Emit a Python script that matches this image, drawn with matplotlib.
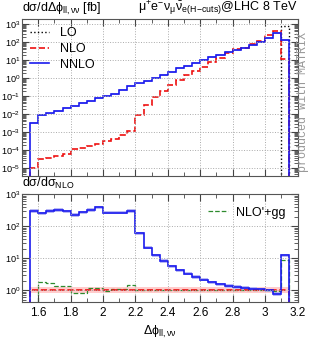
import numpy as np
import matplotlib
matplotlib.use("Agg")
import matplotlib.pyplot as plt
from matplotlib.ticker import LogLocator, MultipleLocator, NullFormatter

plt.rcParams['font.family'] = ['Liberation Sans', 'DejaVu Sans']
plt.rcParams['mathtext.fontset'] = 'custom'
plt.rcParams['mathtext.rm'] = 'Liberation Sans'
plt.rcParams['mathtext.it'] = 'Liberation Sans'
plt.rcParams['mathtext.sf'] = 'Liberation Sans'
plt.rcParams['mathtext.default'] = 'regular'
plt.rcParams['font.size'] = 8

# bin edges in delta phi (ll vs nunu), 0.05 wide
edges = np.round(np.arange(1.55, 3.151, 0.05), 2)

# d sigma / d delta phi [fb]
nnlo = [3.4e-3, 9.1e-3, 1.12e-2, 1.58e-2, 2.14e-2, 3.0e-2, 4.1e-2, 5.75e-2,
        7.8e-2, 0.105, 0.141, 0.22, 0.37, 0.52, 0.74, 1.0,
        1.51, 2.34, 3.55, 5.0, 6.8, 10.5, 14.8, 19.5,
        27.5, 37.0, 50.0, 71.0, 107.0, 166.0, 330.0, 135.0]
nlo = [1.1e-5, 3.2e-5, 3.8e-5, 4.8e-5, 6.3e-5, 1.12e-4, 1.4e-4, 1.8e-4,
       2.2e-4, 3.2e-4, 4.5e-4, 7.1e-4, 1.26e-3, 9.5e-3, 3.5e-2, 8.9e-2,
       0.2, 0.43, 0.81, 1.5, 2.6, 4.5, 7.6, 12.6,
       24.5, 40.0, 50.0, 78.0, 117.0, 257.0, 427.0, 12.0]
lo_edges = [3.10, 3.15]
lo = [790.0]

# ratios to NLO
r_nnlo = [302, 251, 302, 324, 288, 224, 269, 324, 389, 263, 263, 263, 302,
          60, 21.4, 12.3, 8.3, 5.6, 4.2, 3.3, 2.6, 2.14, 1.78, 1.51, 1.35,
          1.26, 1.17, 1.12, 1.07, 1.0, 0.76, 12.3]
gg_edges = edges[1:]
r_gg = [1.8, 1.7, 1.35, 1.35, 0.8, 0.83, 1.17, 1.2, 0.93, 1.07, 1.07, 1.43,
        1.0, 1.03, 1.0, 0.98, 1.0, 1.0, 1.0, 1.0, 1.0, 1.0, 1.0, 1.0, 1.0,
        1.0, 1.0, 1.0, 1.0, 0.97, 8.5]
nnlo_unc = 0.12
nlo_unc = (0.82, 1.22)

blue = '#1a1aee'
red = '#ee1111'
green = '#2e8b2e'

fig = plt.figure(figsize=(3.11, 3.40), dpi=100)
ax1 = fig.add_axes([0.0707, 0.482, 0.886, 0.462])
ax2 = fig.add_axes([0.0707, 0.112, 0.886, 0.317])

nnlo = np.array(nnlo)
ax1.stairs(nnlo * (1 + nnlo_unc), edges, baseline=nnlo * (1 - nnlo_unc),
           fill=True, color='#b8b8f4', lw=0)
ax1.stairs(lo, lo_edges, baseline=1e-8, color='black', ls=':', lw=1.0, label='LO')
ax1.stairs(nlo, edges, baseline=1e-8, color=red, ls='--', lw=1.2, label='NLO')
ax1.stairs(nnlo, edges, baseline=1e-8, color=blue, lw=1.2, label='NNLO')
ax1.set_yscale('log')
ax1.set_ylim(3.7e-6, 1950)
ax1.set_yticks([10.0 ** k for k in range(-5, 4)])
ax1.legend(loc='upper left', frameon=False, fontsize=9, handlelength=1.5,
           handletextpad=0.9, borderaxespad=0.35, borderpad=0.3,
           labelspacing=0.3)
ax1.tick_params(labelbottom=False)

r_nnlo = np.array(r_nnlo)
ax2.stairs(np.full(len(nlo), nlo_unc[1]), edges,
           baseline=np.full(len(nlo), nlo_unc[0]), fill=True, color='#ffcccc', lw=0)
ax2.stairs(r_nnlo * (1 + nnlo_unc), edges, baseline=r_nnlo * (1 - nnlo_unc),
           fill=True, color='#b8b8f4', lw=0)
ax2.stairs(r_gg, gg_edges, baseline=0.1, color=green, ls='--', lw=0.9,
           label="NLO'+gg")
ax2.stairs(np.ones(len(nlo)), edges, color=red, ls='--', lw=1.2)
ax2.stairs(r_nnlo, edges, color=blue, lw=1.2)
ax2.set_yscale('log')
ax2.set_ylim(0.43, 1000)
ax2.set_yticks([1, 10, 100, 1000])
ax2.legend(loc='upper right', frameon=False, fontsize=9, handlelength=1.6,
           handletextpad=0.6, borderaxespad=0.6)

for ax in (ax1, ax2):
    ax.set_xlim(1.5, 3.2)
    ax.xaxis.set_major_locator(MultipleLocator(0.2))
    ax.xaxis.set_minor_locator(MultipleLocator(0.1))
    ax.yaxis.set_minor_locator(LogLocator(base=10, subs=np.arange(2, 10), numticks=20))
    ax.yaxis.set_minor_formatter(NullFormatter())
    ax.grid(True, which='major', color='#aaaaaa', ls=':', lw=0.7)
    ax.tick_params(which='both', direction='in', top=True, right=True,
                   colors='#444444', labelcolor='black', labelsize=6.6, pad=1.2)
    ax.tick_params(which='major', length=5)
    ax.tick_params(which='minor', length=3)
    for s in ax.spines.values():
        s.set_color('#555555')

ax2.set_xticks([1.6, 1.8, 2.0, 2.2, 2.4, 2.6, 2.8, 3.0, 3.2])
ax2.set_xticklabels(['1.6', '1.8', '2', '2.2', '2.4', '2.6', '2.8', '3', '3.2'],
                    fontsize=8.5)
ax2.tick_params(axis='x', pad=4)

ax1.text(0.0, 1.012, r'd$\sigma$/d$\Delta\phi_{ll,\nu\nu}$ [fb]',
         transform=ax1.transAxes, ha='left', va='bottom', fontsize=9)
ax1.text(1.0, 1.008,
         r'$\mu^{+}e^{-}\nu_{\mu}\bar{\nu}_{e}{}_{(H\!-\!cuts)}$@LHC 8 TeV',
         transform=ax1.transAxes, ha='right', va='bottom', fontsize=9)
ax2.text(0.0, 1.03, r'd$\sigma$/d$\sigma_{NLO}$',
         transform=ax2.transAxes, ha='left', va='bottom', fontsize=9)
ax2.set_xlabel(r'$\Delta\phi_{ll,\nu\nu}$', fontsize=9, labelpad=3)
fig.text(0.975, 0.70, 'produced with MATRIX', rotation=90, ha='center',
         va='center', family='Liberation Mono', fontsize=8.5, color='#999999')

fig.savefig('out.png', dpi=100)
